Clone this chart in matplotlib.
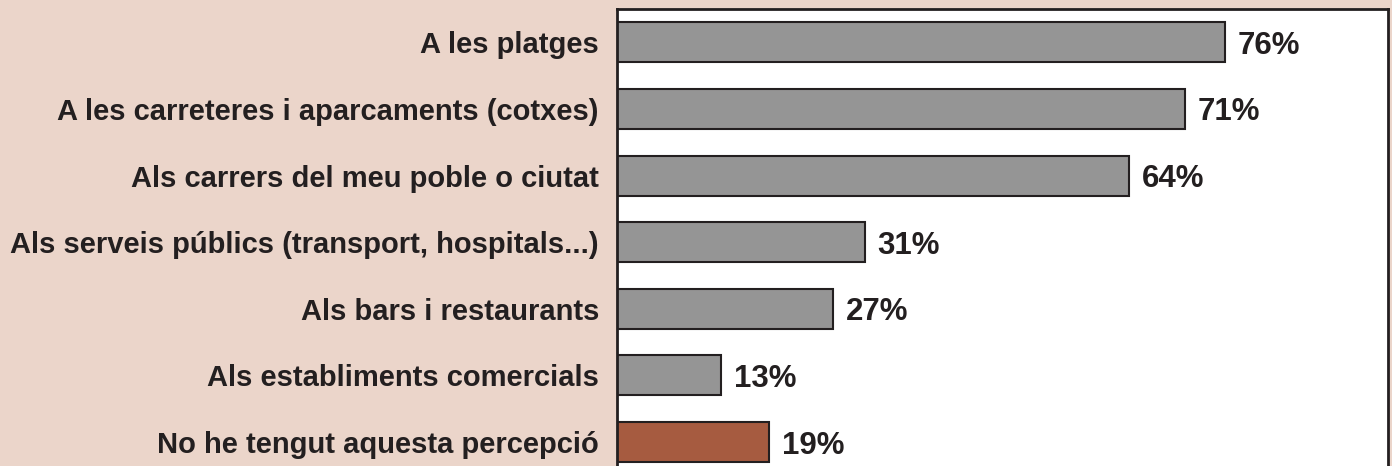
import matplotlib
matplotlib.use("Agg")
import matplotlib.pyplot as plt

categories = [
    "A les platges",
    "A les carreteres i aparcaments (cotxes)",
    "Als carrers del meu poble o ciutat",
    "Als serveis públics (transport, hospitals...)",
    "Als bars i restaurants",
    "Als establiments comercials",
    "No he tengut aquesta percepció",
]
values = [76, 71, 64, 31, 27, 13, 19]
bar_colors = ["#959595"] * 6 + ["#A65B40"]

BG = "#EBD5CA"
INK = "#231F20"

plt.rcParams["font.family"] = ["Liberation Sans", "DejaVu Sans"]

fig = plt.figure(figsize=(13.92, 4.66), dpi=100, facecolor=BG)
ax = fig.add_axes([617 / 1392, 0.0, 771 / 1392, 1 - 9 / 466])
ax.set_facecolor("white")

y = list(range(len(categories)))
ax.barh(y, values, height=0.6, color=bar_colors, edgecolor=INK, linewidth=1.5, zorder=2)

for yi, v in zip(y, values):
    ax.text(v + 1.6, yi, f"{v}%", va="center_baseline", ha="left", fontsize=22.5,
            fontweight="bold", color=INK)

ax.set_xlim(0, 96.4)
ax.set_ylim(6.36, -0.5)
ax.set_yticks(y)
ax.set_yticklabels(categories, fontsize=21, fontweight="bold", color=INK,
                   va="center_baseline")
ax.tick_params(axis="y", length=0, pad=13)
ax.set_xticks([])
for side in ("left", "top", "right"):
    ax.spines[side].set_color(INK)
    ax.spines[side].set_linewidth(2)
ax.spines["bottom"].set_visible(False)

fig.savefig("out.png", dpi=100, facecolor=BG)
